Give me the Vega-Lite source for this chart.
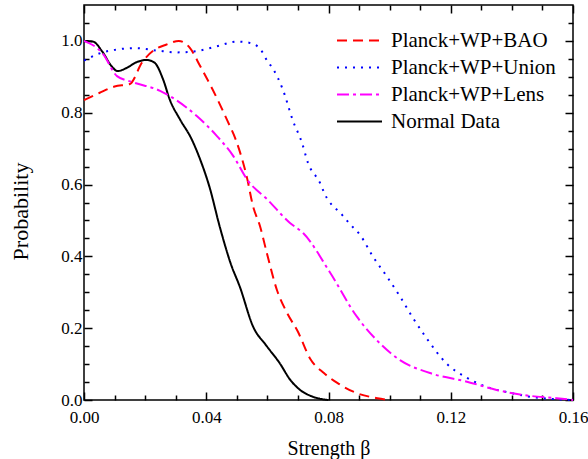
{
  "$schema": "https://vega.github.io/schema/vega-lite/v6.json",
  "width": 489,
  "height": 395,
  "autosize": {"type": "none"},
  "padding": {"left": 84, "top": 5, "right": 15, "bottom": 59},
  "background": "white",
  "config": {
    "view": {"stroke": "black", "strokeWidth": 1.5},
    "font": "Liberation Serif, Times New Roman, serif",
    "axis": {"grid": false, "domain": false, "ticks": true, "tickColor": "black", "tickWidth": 1.5, "tickOpacity": 1, "labelColor": "black", "titleColor": "black", "labelFont": "Liberation Serif, Times New Roman, serif", "titleFont": "Liberation Serif, Times New Roman, serif", "labelFontSize": 17, "titleFontSize": 20, "titleFontWeight": "normal", "labelFlush": false, "labelOverlap": false}
  },
  "data": {"values": [
    {"s": "Normal Data", "b": 0, "p": 1.0},
    {"s": "Normal Data", "b": 0.003, "p": 0.998},
    {"s": "Normal Data", "b": 0.006, "p": 0.97},
    {"s": "Normal Data", "b": 0.009, "p": 0.93},
    {"s": "Normal Data", "b": 0.011, "p": 0.916},
    {"s": "Normal Data", "b": 0.014, "p": 0.925},
    {"s": "Normal Data", "b": 0.017, "p": 0.94},
    {"s": "Normal Data", "b": 0.0205, "p": 0.947},
    {"s": "Normal Data", "b": 0.023, "p": 0.94},
    {"s": "Normal Data", "b": 0.026, "p": 0.89},
    {"s": "Normal Data", "b": 0.028, "p": 0.838},
    {"s": "Normal Data", "b": 0.0315, "p": 0.78},
    {"s": "Normal Data", "b": 0.035, "p": 0.73},
    {"s": "Normal Data", "b": 0.038, "p": 0.67},
    {"s": "Normal Data", "b": 0.041, "p": 0.595},
    {"s": "Normal Data", "b": 0.0445, "p": 0.48},
    {"s": "Normal Data", "b": 0.048, "p": 0.38},
    {"s": "Normal Data", "b": 0.051, "p": 0.315},
    {"s": "Normal Data", "b": 0.0553, "p": 0.205},
    {"s": "Normal Data", "b": 0.0598, "p": 0.15},
    {"s": "Normal Data", "b": 0.064, "p": 0.103},
    {"s": "Normal Data", "b": 0.0675, "p": 0.056},
    {"s": "Normal Data", "b": 0.0707, "p": 0.028},
    {"s": "Normal Data", "b": 0.074, "p": 0.012},
    {"s": "Normal Data", "b": 0.077, "p": 0.004},
    {"s": "Normal Data", "b": 0.08, "p": 0.0},
    {"s": "Planck+WP+BAO", "b": 0, "p": 0.835},
    {"s": "Planck+WP+BAO", "b": 0.005, "p": 0.855},
    {"s": "Planck+WP+BAO", "b": 0.01, "p": 0.873},
    {"s": "Planck+WP+BAO", "b": 0.015, "p": 0.88},
    {"s": "Planck+WP+BAO", "b": 0.019, "p": 0.94},
    {"s": "Planck+WP+BAO", "b": 0.023, "p": 0.975},
    {"s": "Planck+WP+BAO", "b": 0.027, "p": 0.99},
    {"s": "Planck+WP+BAO", "b": 0.031, "p": 1.0},
    {"s": "Planck+WP+BAO", "b": 0.0347, "p": 0.98},
    {"s": "Planck+WP+BAO", "b": 0.038, "p": 0.93},
    {"s": "Planck+WP+BAO", "b": 0.042, "p": 0.866},
    {"s": "Planck+WP+BAO", "b": 0.0468, "p": 0.78},
    {"s": "Planck+WP+BAO", "b": 0.05, "p": 0.717},
    {"s": "Planck+WP+BAO", "b": 0.0533, "p": 0.62},
    {"s": "Planck+WP+BAO", "b": 0.0553, "p": 0.54},
    {"s": "Planck+WP+BAO", "b": 0.0576, "p": 0.484},
    {"s": "Planck+WP+BAO", "b": 0.0598, "p": 0.41},
    {"s": "Planck+WP+BAO", "b": 0.0631, "p": 0.307},
    {"s": "Planck+WP+BAO", "b": 0.0664, "p": 0.243},
    {"s": "Planck+WP+BAO", "b": 0.07, "p": 0.19},
    {"s": "Planck+WP+BAO", "b": 0.074, "p": 0.115},
    {"s": "Planck+WP+BAO", "b": 0.0785, "p": 0.075},
    {"s": "Planck+WP+BAO", "b": 0.083, "p": 0.047},
    {"s": "Planck+WP+BAO", "b": 0.089, "p": 0.02},
    {"s": "Planck+WP+BAO", "b": 0.096, "p": 0.005},
    {"s": "Planck+WP+BAO", "b": 0.1, "p": 0.0},
    {"s": "Planck+WP+Union", "b": 0, "p": 0.945},
    {"s": "Planck+WP+Union", "b": 0.005, "p": 0.965},
    {"s": "Planck+WP+Union", "b": 0.01, "p": 0.975},
    {"s": "Planck+WP+Union", "b": 0.017, "p": 0.98},
    {"s": "Planck+WP+Union", "b": 0.024, "p": 0.973},
    {"s": "Planck+WP+Union", "b": 0.0304, "p": 0.968},
    {"s": "Planck+WP+Union", "b": 0.037, "p": 0.972},
    {"s": "Planck+WP+Union", "b": 0.0435, "p": 0.985},
    {"s": "Planck+WP+Union", "b": 0.05, "p": 0.998},
    {"s": "Planck+WP+Union", "b": 0.054, "p": 0.995},
    {"s": "Planck+WP+Union", "b": 0.0576, "p": 0.978},
    {"s": "Planck+WP+Union", "b": 0.06, "p": 0.944},
    {"s": "Planck+WP+Union", "b": 0.062, "p": 0.92},
    {"s": "Planck+WP+Union", "b": 0.065, "p": 0.866},
    {"s": "Planck+WP+Union", "b": 0.0684, "p": 0.777},
    {"s": "Planck+WP+Union", "b": 0.0713, "p": 0.717},
    {"s": "Planck+WP+Union", "b": 0.0733, "p": 0.66},
    {"s": "Planck+WP+Union", "b": 0.0772, "p": 0.605},
    {"s": "Planck+WP+Union", "b": 0.0788, "p": 0.573},
    {"s": "Planck+WP+Union", "b": 0.0844, "p": 0.516},
    {"s": "Planck+WP+Union", "b": 0.087, "p": 0.49},
    {"s": "Planck+WP+Union", "b": 0.0903, "p": 0.46},
    {"s": "Planck+WP+Union", "b": 0.0945, "p": 0.4},
    {"s": "Planck+WP+Union", "b": 0.0991, "p": 0.344},
    {"s": "Planck+WP+Union", "b": 0.1034, "p": 0.288},
    {"s": "Planck+WP+Union", "b": 0.1076, "p": 0.229},
    {"s": "Planck+WP+Union", "b": 0.112, "p": 0.173},
    {"s": "Planck+WP+Union", "b": 0.1188, "p": 0.1},
    {"s": "Planck+WP+Union", "b": 0.1253, "p": 0.062},
    {"s": "Planck+WP+Union", "b": 0.1318, "p": 0.036},
    {"s": "Planck+WP+Union", "b": 0.1384, "p": 0.022},
    {"s": "Planck+WP+Union", "b": 0.146, "p": 0.009},
    {"s": "Planck+WP+Union", "b": 0.153, "p": 0.003},
    {"s": "Planck+WP+Union", "b": 0.16, "p": 0.0},
    {"s": "Planck+WP+Lens", "b": 0, "p": 1.0},
    {"s": "Planck+WP+Lens", "b": 0.0062, "p": 0.964},
    {"s": "Planck+WP+Lens", "b": 0.0108, "p": 0.902},
    {"s": "Planck+WP+Lens", "b": 0.016, "p": 0.885},
    {"s": "Planck+WP+Lens", "b": 0.0249, "p": 0.861},
    {"s": "Planck+WP+Lens", "b": 0.028, "p": 0.847},
    {"s": "Planck+WP+Lens", "b": 0.037, "p": 0.79},
    {"s": "Planck+WP+Lens", "b": 0.0435, "p": 0.735},
    {"s": "Planck+WP+Lens", "b": 0.0488, "p": 0.68},
    {"s": "Planck+WP+Lens", "b": 0.0537, "p": 0.61},
    {"s": "Planck+WP+Lens", "b": 0.0598, "p": 0.56},
    {"s": "Planck+WP+Lens", "b": 0.0674, "p": 0.493},
    {"s": "Planck+WP+Lens", "b": 0.0717, "p": 0.465},
    {"s": "Planck+WP+Lens", "b": 0.0805, "p": 0.355},
    {"s": "Planck+WP+Lens", "b": 0.0893, "p": 0.232},
    {"s": "Planck+WP+Lens", "b": 0.0968, "p": 0.158},
    {"s": "Planck+WP+Lens", "b": 0.1034, "p": 0.111},
    {"s": "Planck+WP+Lens", "b": 0.1132, "p": 0.075},
    {"s": "Planck+WP+Lens", "b": 0.1253, "p": 0.051},
    {"s": "Planck+WP+Lens", "b": 0.135, "p": 0.028},
    {"s": "Planck+WP+Lens", "b": 0.1436, "p": 0.014},
    {"s": "Planck+WP+Lens", "b": 0.1547, "p": 0.005},
    {"s": "Planck+WP+Lens", "b": 0.16, "p": 0.0}
  ]},
  "layer": [
    {
      "mark": {"type": "line", "opacity": 0},
      "encoding": {
        "x": {"field": "b", "type": "quantitative",
          "axis": {"orient": "bottom", "title": null, "labels": false, "ticks": true,
            "values": [0.01,0.02,0.03,0.05,0.06,0.07,0.09,0.1,0.11,0.13,0.14,0.15], "tickSize": -5}},
        "y": {"field": "p", "type": "quantitative",
          "axis": {"orient": "left", "title": null, "labels": false, "ticks": true,
            "values": [0.05,0.1,0.15,0.25,0.3,0.35,0.45,0.5,0.55,0.65,0.7,0.75,0.85,0.9,0.95,1.05], "tickSize": -5}},
        "detail": {"field": "s"}
      }
    },
    {
      "mark": {"type": "line", "opacity": 0},
      "encoding": {
        "x": {"field": "b", "type": "quantitative",
          "axis": {"orient": "top", "title": null, "labels": false, "ticks": true,
            "values": [0.01,0.02,0.03,0.05,0.06,0.07,0.09,0.1,0.11,0.13,0.14,0.15], "tickSize": -5}},
        "y": {"field": "p", "type": "quantitative",
          "axis": {"orient": "right", "title": null, "labels": false, "ticks": true,
            "values": [0.05,0.1,0.15,0.25,0.3,0.35,0.45,0.5,0.55,0.65,0.7,0.75,0.85,0.9,0.95,1.05], "tickSize": -5}},
        "detail": {"field": "s"}
      }
    },
    {
      "mark": {"type": "line", "opacity": 0},
      "encoding": {
        "x": {"field": "b", "type": "quantitative",
          "axis": {"orient": "top", "title": null, "labels": false, "ticks": true,
            "values": [0,0.04,0.08,0.12,0.16], "tickSize": -8}},
        "y": {"field": "p", "type": "quantitative",
          "axis": {"orient": "right", "title": null, "labels": false, "ticks": true,
            "values": [0,0.2,0.4,0.6,0.8,1.0], "tickSize": -8}},
        "detail": {"field": "s"}
      }
    },
    {
      "mark": {"type": "line", "strokeWidth": 2, "interpolate": "monotone"},
      "encoding": {
        "x": {"field": "b", "type": "quantitative", "scale": {"domain": [0, 0.16], "nice": false},
          "axis": {"orient": "bottom", "title": "Strength β", "titlePadding": 13, "ticks": true,
            "values": [0,0.04,0.08,0.12,0.16], "format": ".2f",
            "tickSize": -8, "labelPadding": 17}},
        "y": {"field": "p", "type": "quantitative", "scale": {"domain": [0, 1.1], "nice": false},
          "axis": {"orient": "left", "title": "Probability", "titlePadding": 28, "titleFontSize": 22, "titleY": 206, "ticks": true,
            "values": [0,0.2,0.4,0.6,0.8,1.0], "format": ".1f",
            "tickSize": -8, "labelPadding": 10}},
        "color": {"field": "s", "type": "nominal",
          "scale": {"domain": ["Planck+WP+BAO", "Planck+WP+Union", "Planck+WP+Lens", "Normal Data"], "range": ["#ff0000", "#0000ff", "#ff00ff", "#000000"]},
          "legend": {"title": null, "orient": "none", "legendX": 263, "legendY": 23, "symbolType": "M-2,0H2", "symbolSize": 506, "symbolStrokeWidth": 2, "labelFontSize": 21, "labelLimit": 400, "labelFont": "Liberation Serif, Times New Roman, serif", "labelColor": "black", "rowPadding": 4, "labelOffset": 19}},
        "strokeDash": {"field": "s", "type": "nominal",
          "scale": {"domain": ["Planck+WP+BAO", "Planck+WP+Union", "Planck+WP+Lens", "Normal Data"], "range": [[10, 6], [2, 6], [12, 4, 3, 4], [1, 0]]}}
      }
    }
  ],
  "resolve": {"axis": {"x": "independent", "y": "independent"}}
}
